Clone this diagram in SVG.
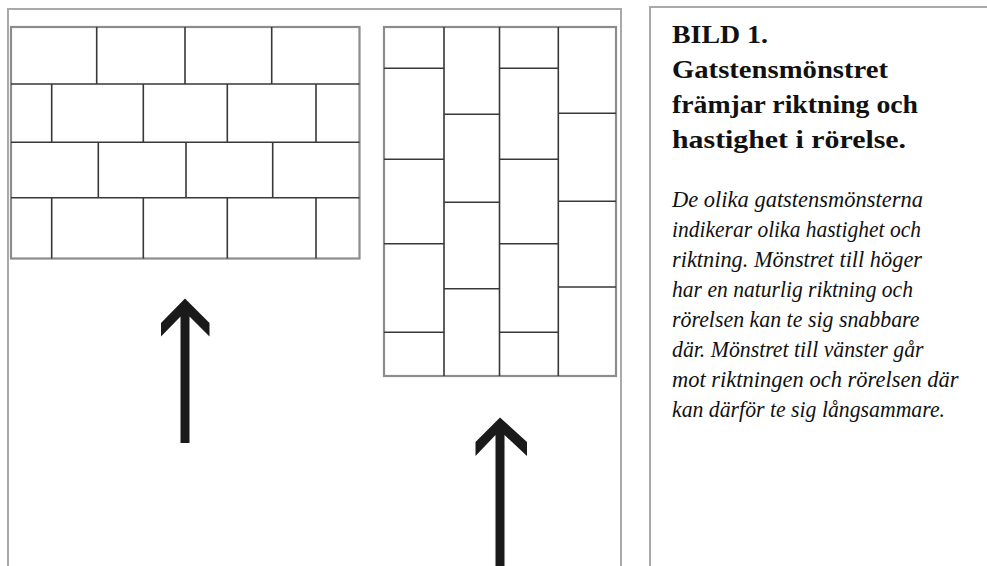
<svg xmlns="http://www.w3.org/2000/svg" width="987" height="566" viewBox="0 0 987 566">
<style>
.frame{fill:none;stroke:#a9a9a9;stroke-width:2}
.outer{fill:none;stroke:#8c8c8c;stroke-width:2.2}
.joint{stroke:#383838;stroke-width:1.6;fill:none}
.arrow{fill:#1a1a1a}
.bold{font-family:"Liberation Serif",serif;font-weight:bold;font-size:25px;fill:#111}
.ital{font-family:"Liberation Serif",serif;font-style:italic;font-size:22.5px;fill:#111}
</style>
<rect width="987" height="566" fill="#fff"/>
<g id="frames">
<path class="frame" d="M8,566 V9 H621 V566"/>
<path class="frame" d="M650,566 V7 H987"/>
</g>
<g id="pattern-left">
<rect class="outer" x="11" y="27" width="348.5" height="231.5"/>
<path class="joint" d="M11,84 H359.5 M11,142.3 H359.5 M11,197.7 H359.5
M96.7,27 V84 M185,27 V84 M271.7,27 V84
M51.7,84 V142.3 M143.3,84 V142.3 M227.3,84 V142.3 M316,84 V142.3
M98.3,142.3 V197.7 M186,142.3 V197.7 M272.7,142.3 V197.7
M51.7,197.7 V258.5 M143.3,197.7 V258.5 M227.3,197.7 V258.5 M316,197.7 V258.5"/>
</g>
<g id="pattern-right">
<rect class="outer" x="384" y="27" width="232" height="349"/>
<path class="joint" d="M444,27 V376 M499.5,27 V376 M558.3,27 V376
M384,68.3 H444 M384,159.3 H444 M384,243.7 H444 M384,332.3 H444
M444,114.3 H499.5 M444,202.3 H499.5 M444,288.7 H499.5
M499.5,68.3 H558.3 M499.5,159.3 H558.3 M499.5,243.7 H558.3 M499.5,332.3 H558.3
M558.3,113.3 H616 M558.3,201.3 H616 M558.3,287 H616"/>
</g>
<g id="arrow-left">
<polygon class="arrow" points="185,298.5 209.5,323 209.5,336.5 189.5,316.5 189.5,443 180.5,443 180.5,316.5 161,336.5 161,323"/>
</g>
<g id="arrow-right">
<polygon class="arrow" points="500,417.5 527,442 527,456 504.5,435 504.5,566 495.5,566 495.5,435 475.5,456 475.5,442"/>
</g>
<g id="caption">
<text class="bold" x="672" y="43" textLength="96" lengthAdjust="spacingAndGlyphs">BILD 1.</text>
<text class="bold" x="672" y="78" textLength="216" lengthAdjust="spacingAndGlyphs">Gatstensmönstret</text>
<text class="bold" x="672" y="113" textLength="246" lengthAdjust="spacingAndGlyphs">främjar riktning och</text>
<text class="bold" x="672" y="148" textLength="234" lengthAdjust="spacingAndGlyphs">hastighet i rörelse.</text>
<text class="ital" x="672" y="206.5" textLength="251" lengthAdjust="spacingAndGlyphs">De olika gatstensmönsterna</text>
<text class="ital" x="672" y="236.6" textLength="249" lengthAdjust="spacingAndGlyphs">indikerar olika hastighet och</text>
<text class="ital" x="672" y="266.7" textLength="250" lengthAdjust="spacingAndGlyphs">riktning. Mönstret till höger</text>
<text class="ital" x="672" y="296.8" textLength="241" lengthAdjust="spacingAndGlyphs">har en naturlig riktning och</text>
<text class="ital" x="672" y="326.9" textLength="247.5" lengthAdjust="spacingAndGlyphs">rörelsen kan te sig snabbare</text>
<text class="ital" x="672" y="357" textLength="251.5" lengthAdjust="spacingAndGlyphs">där. Mönstret till vänster går</text>
<text class="ital" x="672" y="387.1" textLength="286.5" lengthAdjust="spacingAndGlyphs">mot riktningen och rörelsen där</text>
<text class="ital" x="672" y="417.2" textLength="273" lengthAdjust="spacingAndGlyphs">kan därför te sig långsammare.</text>
</g>
</svg>
